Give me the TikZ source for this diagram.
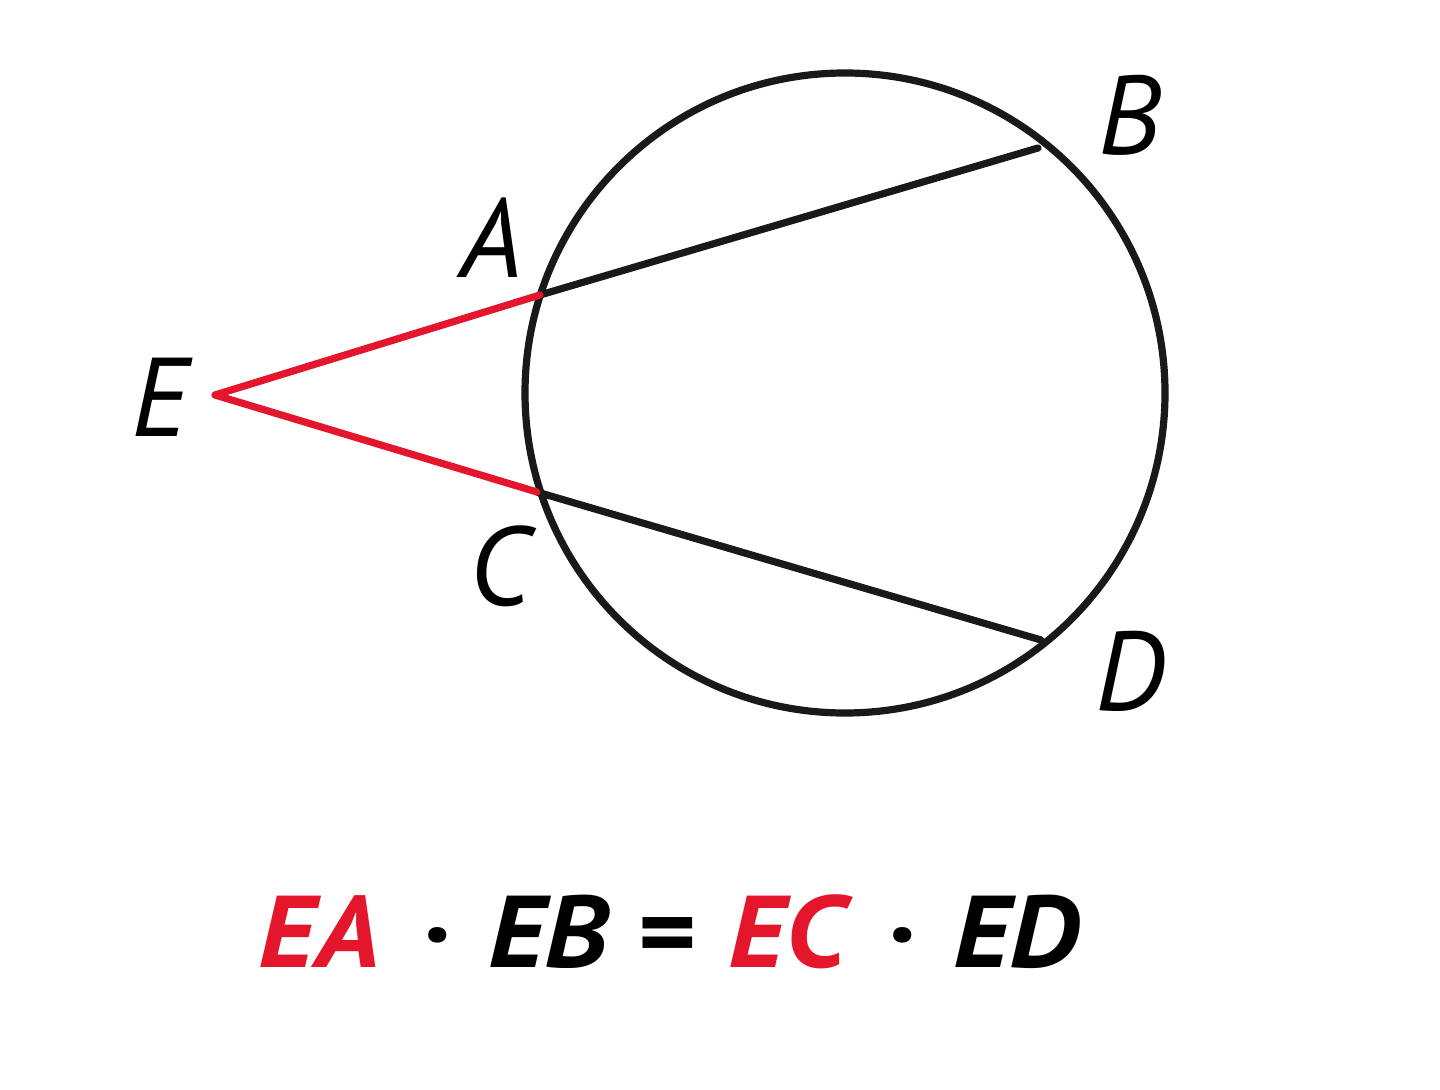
\documentclass[tikz,border=0pt]{standalone}
\usepackage{fontspec}
\setmainfont{PT Sans}
\usepackage{tikz}
\definecolor{secred}{RGB}{228,22,44}
\newcommand{\prodsep}{\hspace{18pt}\textperiodcentered\hspace{18pt}}
\newcommand{\eqsep}{\hspace{13pt}=\hspace{16pt}}

\begin{document}
\begin{tikzpicture}[x=0.5pt,y=0.5pt,yscale=-1,xscale=1,
  line join=round, line cap=round,
  curve/.style={line width=3.6pt, black!90},
  redseg/.style={line width=3.6pt, secred},
  lbl/.style={inner sep=0pt, font=\fontsize{56}{60}\selectfont\itshape},
  rule/.style={inner sep=0pt, xscale=1.1, font=\fontsize{51}{56}\selectfont\bfseries\itshape}]
\useasboundingbox (0,0) rectangle (1440,1090);

%Circle
\coordinate (O) at (845,393);
\draw [curve] (O) circle [radius=320];

%Points
\coordinate (E) at (215,395);
\coordinate (A) at (540,295);
\coordinate (C) at (537,492);
\coordinate (B) at (1038,148);
\coordinate (D) at (1041,640);

%Secants
\draw [curve] (A) -- (B);
\draw [curve] (C) -- (D);
\draw [redseg] (A) -- (E) -- (C);

% Text Node
\node [lbl] (labE) at (160,397) {E};
% Text Node
\node [lbl] (labA) at (492,238) {A};
% Text Node
\node [lbl] (labB) at (1130,115) {B};
% Text Node
\node [lbl] (labC) at (500,566) {C};
% Text Node
\node [lbl] (labD) at (1130,671) {D};
% Text Node
\node [rule] (law) at (669,932) {\textcolor{secred}{EA}\prodsep EB\eqsep\textcolor{secred}{EC}\prodsep ED};
\end{tikzpicture}
\end{document}
